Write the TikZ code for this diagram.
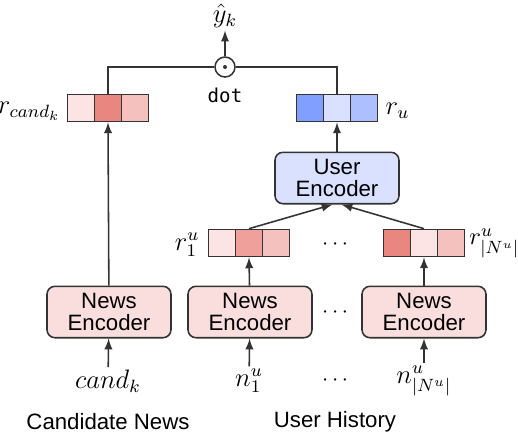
\documentclass[tikz,border=0pt]{standalone}
\usepackage[no-math]{fontspec}
\setmainfont{Liberation Sans}
\setmonofont{DejaVu Sans Mono}
\usepackage{amsmath}
\usetikzlibrary{matrix,positioning,arrows}

\definecolor{redA}{HTML}{FBE4E3}
\definecolor{redB}{HTML}{EA8680}
\definecolor{redC}{HTML}{F0A09B}
\definecolor{redD}{HTML}{F4C1BE}
\definecolor{blueA}{HTML}{809FFF}
\definecolor{blueB}{HTML}{D9E1FF}
\definecolor{blueC}{HTML}{ADBFFF}
\definecolor{encred}{HTML}{FADEDE}
\definecolor{edge}{HTML}{333333}

\begin{document}
\begin{tikzpicture}[
x=0.45pt,
y=-0.45pt,
vec/.style={
  matrix of nodes,
  inner sep=0pt,
  nodes={
    draw=edge,
    line width=0.7pt,
    minimum size=12.2pt,
    inner sep=0pt
    },
  column sep=-0.7pt
  },
enc/.style={
  draw=edge,
  line width=0.7pt,
  rounded corners=3.6pt,
  minimum width=55.8pt,
  minimum height=23pt,
  align=center,
  font=\fontsize{10}{9.5}\selectfont
  },
lbl/.style={
  inner sep=1pt,
  font=\fontsize{12}{14}\selectfont
  },
>=latex
]
\useasboundingbox (0,0) rectangle (518,436);

% output and dot product
\node[lbl] (yhat) at (225,16) {$\hat{y}_k$};
\node[circle, draw=edge, line width=0.7pt, minimum size=9pt, inner sep=0pt] (prod) at (225,67) {};
\fill[edge] (prod) circle (0.9pt);
\node[inner sep=1pt, font=\ttfamily\fontsize{8.6}{10}\selectfont] (dotlbl) at (225,95) {dot};

% candidate and user vectors
\matrix[vec] (rc) at (108,108)
{
|[fill=redA]| & |[fill=redB]| & |[fill=redD]| \\
};
\node[lbl, anchor=east] (rclbl) at (63,111) {$r_{cand_k}$};

\matrix[vec] (ru) at (337,108)
{
|[fill=blueA]| & |[fill=blueB]| & |[fill=blueC]| \\
};
\node[lbl, anchor=west] (rulbl) at (383,111) {$r_u$};

\node[enc, fill=blueB] (ue) at (337,178) {User\\Encoder};

% clicked news vectors
\matrix[vec] (r1) at (249,243)
{
|[fill=redA]| & |[fill=redC]| & |[fill=redD]| \\
};
\node[lbl, anchor=east] (r1lbl) at (202,245) {$r^u_1$};

\matrix[vec] (rN) at (424,243)
{
|[fill=redB]| & |[fill=redA]| & |[fill=redD]| \\
};
\node[lbl, anchor=west, inner sep=0pt, font=\fontsize{11}{13}\selectfont] (rNlbl) at (469,243) {$r^u_{|N^u|}$};
\node (hdots1) at (337,245) {$\cdots$};

% news encoders
\node[enc, fill=encred] (ne1) at (109,312) {News\\Encoder};
\node[enc, fill=encred] (ne2) at (250,312) {News\\Encoder};
\node[enc, fill=encred] (ne3) at (424,312) {News\\Encoder};
\node (hdots2) at (337,313) {$\cdots$};

% inputs
\node[lbl] (cand) at (108,381) {$cand_k$};
\node[lbl] (n1) at (249,381) {$n^u_1$};
\node[lbl] (nN) at (424,381) {$n^u_{|N^u|}$};
\node (hdots3) at (337,381) {$\cdots$};

\node (candnews) at (108,422) {Candidate News};
\node (history) at (335,422) {User History};

\begin{scope}[draw=edge, line width=0.7pt]
\foreach \a/\b/\c in {cand/ne1/rc, n1/ne2/r1, nN/ne3/rN}
{
  \draw[->] (\a) -- (\b);
  \draw[->] (\b) -- (\c-1-2.south);
}
\draw[->] (r1-1-2.north) -- ([xshift=-2pt]ue.south);
\draw[->] (rN-1-2.north) -- ([xshift=2pt]ue.south);
\draw[->] (ue) -- (ru-1-2.south);
\draw (rc-1-2.north) |- (prod.west);
\draw (ru-1-2.north) |- (prod.east);
\draw[->] (prod) -- (yhat);
\end{scope}
\end{tikzpicture}
\end{document}
